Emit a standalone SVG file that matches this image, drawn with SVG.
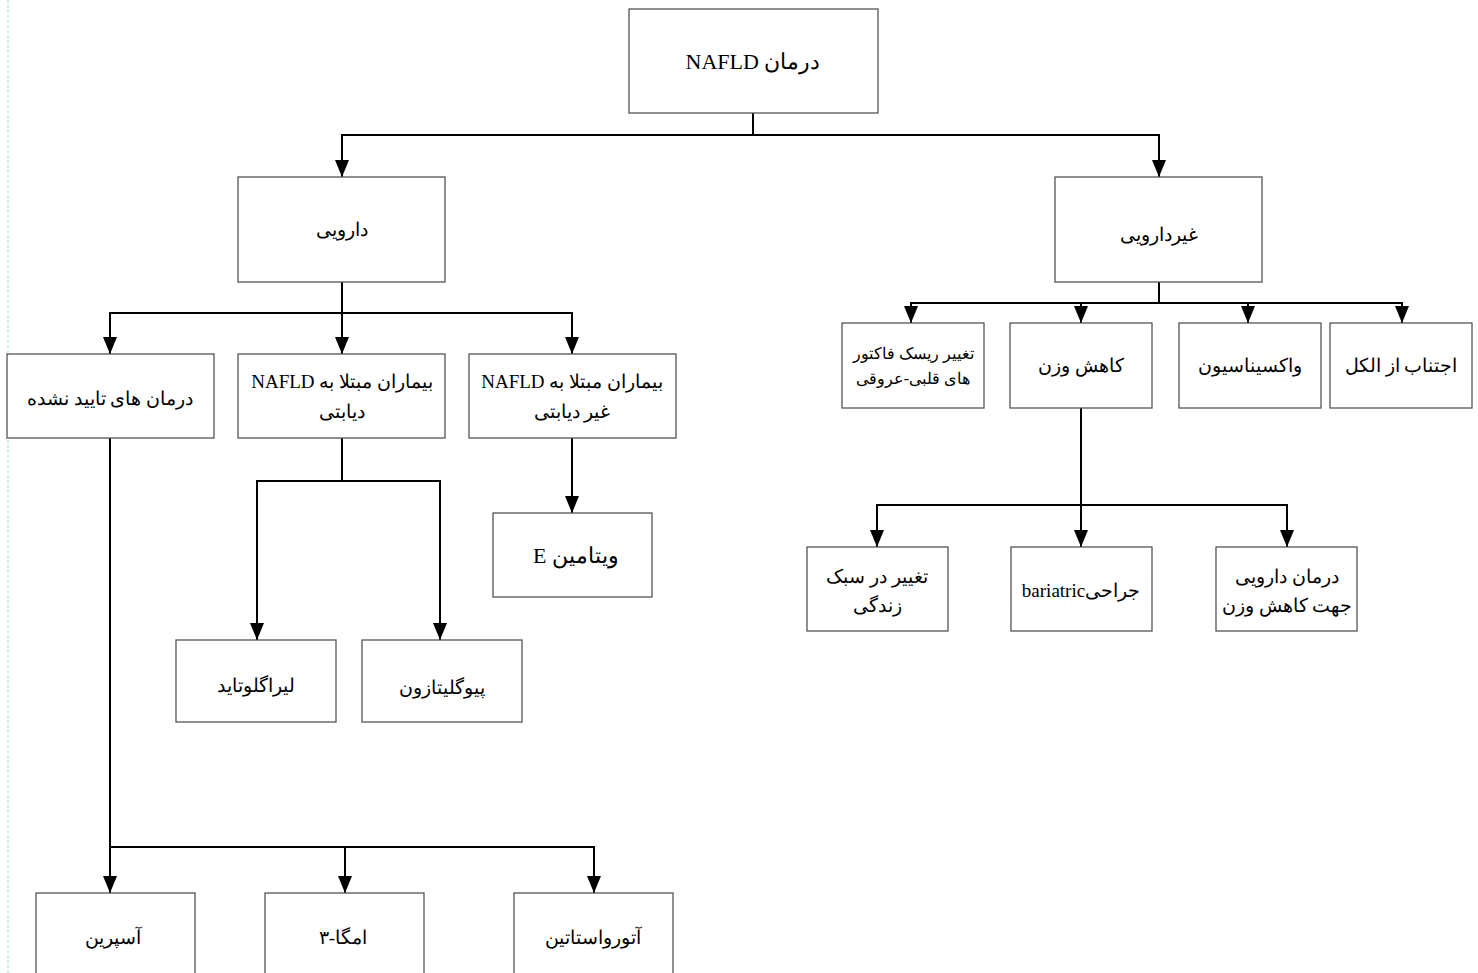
<svg xmlns="http://www.w3.org/2000/svg" width="1478" height="973" viewBox="0 0 1478 973">
<defs>
<style>
.box{fill:#fff;stroke:#555;stroke-width:1.3}
.t{font-family:"Liberation Serif","DejaVu Serif","Noto Sans",serif;font-size:19px;fill:#000;text-anchor:middle;direction:rtl;unicode-bidi:embed}
.s{font-size:16px}
.big{font-size:22px}
.c{fill:none;stroke:#000;stroke-width:2}
</style>
<marker id="ah" markerUnits="userSpaceOnUse" markerWidth="18" markerHeight="16" refX="17" refY="7" orient="auto">
<path d="M0,0 L17,7 L0,14 z" fill="#000"/>
</marker>
</defs>
<rect width="1478" height="973" fill="#fff"/>
<line x1="8" y1="0" x2="8" y2="973" stroke="#8fe8e0" stroke-width="1" stroke-dasharray="3,2"/>
<g id="connectors">
<path class="c" d="M753,113 V135 H342 V177" marker-end="url(#ah)"/>
<path class="c" d="M753,113 V135 H1159 V177" marker-end="url(#ah)"/>
<path class="c" d="M342,282 V313 H110 V354" marker-end="url(#ah)"/>
<path class="c" d="M342,282 V354" marker-end="url(#ah)"/>
<path class="c" d="M342,282 V313 H572 V354" marker-end="url(#ah)"/>
<path class="c" d="M1159,282 V303 H911 V323" marker-end="url(#ah)"/>
<path class="c" d="M1159,282 V303 H1081 V323" marker-end="url(#ah)"/>
<path class="c" d="M1159,282 V303 H1248 V323" marker-end="url(#ah)"/>
<path class="c" d="M1159,282 V303 H1402 V323" marker-end="url(#ah)"/>
<path class="c" d="M1081,408 V505 H877 V547" marker-end="url(#ah)"/>
<path class="c" d="M1081,408 V547" marker-end="url(#ah)"/>
<path class="c" d="M1081,408 V505 H1287 V547" marker-end="url(#ah)"/>
<path class="c" d="M342,438 V481 H257 V640" marker-end="url(#ah)"/>
<path class="c" d="M342,438 V481 H440 V640" marker-end="url(#ah)"/>
<path class="c" d="M572,438 V513" marker-end="url(#ah)"/>
<path class="c" d="M110,438 V893" marker-end="url(#ah)"/>
<path class="c" d="M110,438 V847 H345 V893" marker-end="url(#ah)"/>
<path class="c" d="M110,438 V847 H594 V893" marker-end="url(#ah)"/>
</g>
<g id="root"><rect class="box" x="629" y="9" width="249" height="104"/><text class="t big" x="753" y="69">درمان NAFLD</text></g>
<g id="daruyi"><rect class="box" x="238" y="177" width="207" height="105"/><text class="t" x="342" y="236">دارویی</text></g>
<g id="gheyrdaruyi"><rect class="box" x="1055" y="177" width="207" height="105"/><text class="t" x="1159" y="241">غیردارویی</text></g>
<g id="taeed"><rect class="box" x="7" y="354" width="207" height="84"/><text class="t" x="110" y="405">درمان های تایید نشده</text></g>
<g id="diabetic"><rect class="box" x="238" y="354" width="207" height="84"/><text class="t" x="342" y="388">بیماران مبتلا به NAFLD</text><text class="t" x="342" y="418">دیابتی</text></g>
<g id="nondiabetic"><rect class="box" x="469" y="354" width="207" height="84"/><text class="t" x="572" y="388">بیماران مبتلا به NAFLD</text><text class="t" x="572" y="418">غیر دیابتی</text></g>
<g id="vitE"><rect class="box" x="493" y="513" width="159" height="84"/><text class="t big" x="576" y="563">ویتامین E</text></g>
<g id="lira"><rect class="box" x="176" y="640" width="160" height="82"/><text class="t" x="256" y="692">لیراگلوتاید</text></g>
<g id="pio"><rect class="box" x="362" y="640" width="160" height="82"/><text class="t" x="442" y="694">پیوگلیتازون</text></g>
<g id="aspirin"><rect class="box" x="36" y="893" width="159" height="90"/><text class="t" x="113" y="944">آسپرین</text></g>
<g id="omega"><rect class="box" x="265" y="893" width="159" height="90"/><text class="t" x="343" y="944">امگا-۳</text></g>
<g id="ator"><rect class="box" x="514" y="893" width="159" height="90"/><text class="t" x="593" y="944">آتورواستاتین</text></g>
<g id="risk"><rect class="box" x="842" y="323" width="142" height="85"/><text class="t s" x="913" y="359">تغییر ریسک فاکتور</text><text class="t s" x="913" y="384">های قلبی-عروقی</text></g>
<g id="kahesh"><rect class="box" x="1010" y="323" width="142" height="85"/><text class="t" x="1081" y="372">کاهش وزن</text></g>
<g id="vaccine"><rect class="box" x="1179" y="323" width="142" height="85"/><text class="t" x="1250" y="372">واکسیناسیون</text></g>
<g id="alcohol"><rect class="box" x="1330" y="323" width="142" height="85"/><text class="t" x="1401" y="372">اجتناب از الکل</text></g>
<g id="lifestyle"><rect class="box" x="807" y="547" width="141" height="84"/><text class="t" x="877" y="583">تغییر در سبک</text><text class="t" x="877" y="612">زندگی</text></g>
<g id="bariatric"><rect class="box" x="1011" y="547" width="141" height="84"/><text class="t" x="1081" y="597">جراحیbariatric</text></g>
<g id="drug"><rect class="box" x="1216" y="547" width="141" height="84"/><text class="t" x="1287" y="583">درمان دارویی</text><text class="t" x="1287" y="612">جهت کاهش وزن</text></g>
</svg>
